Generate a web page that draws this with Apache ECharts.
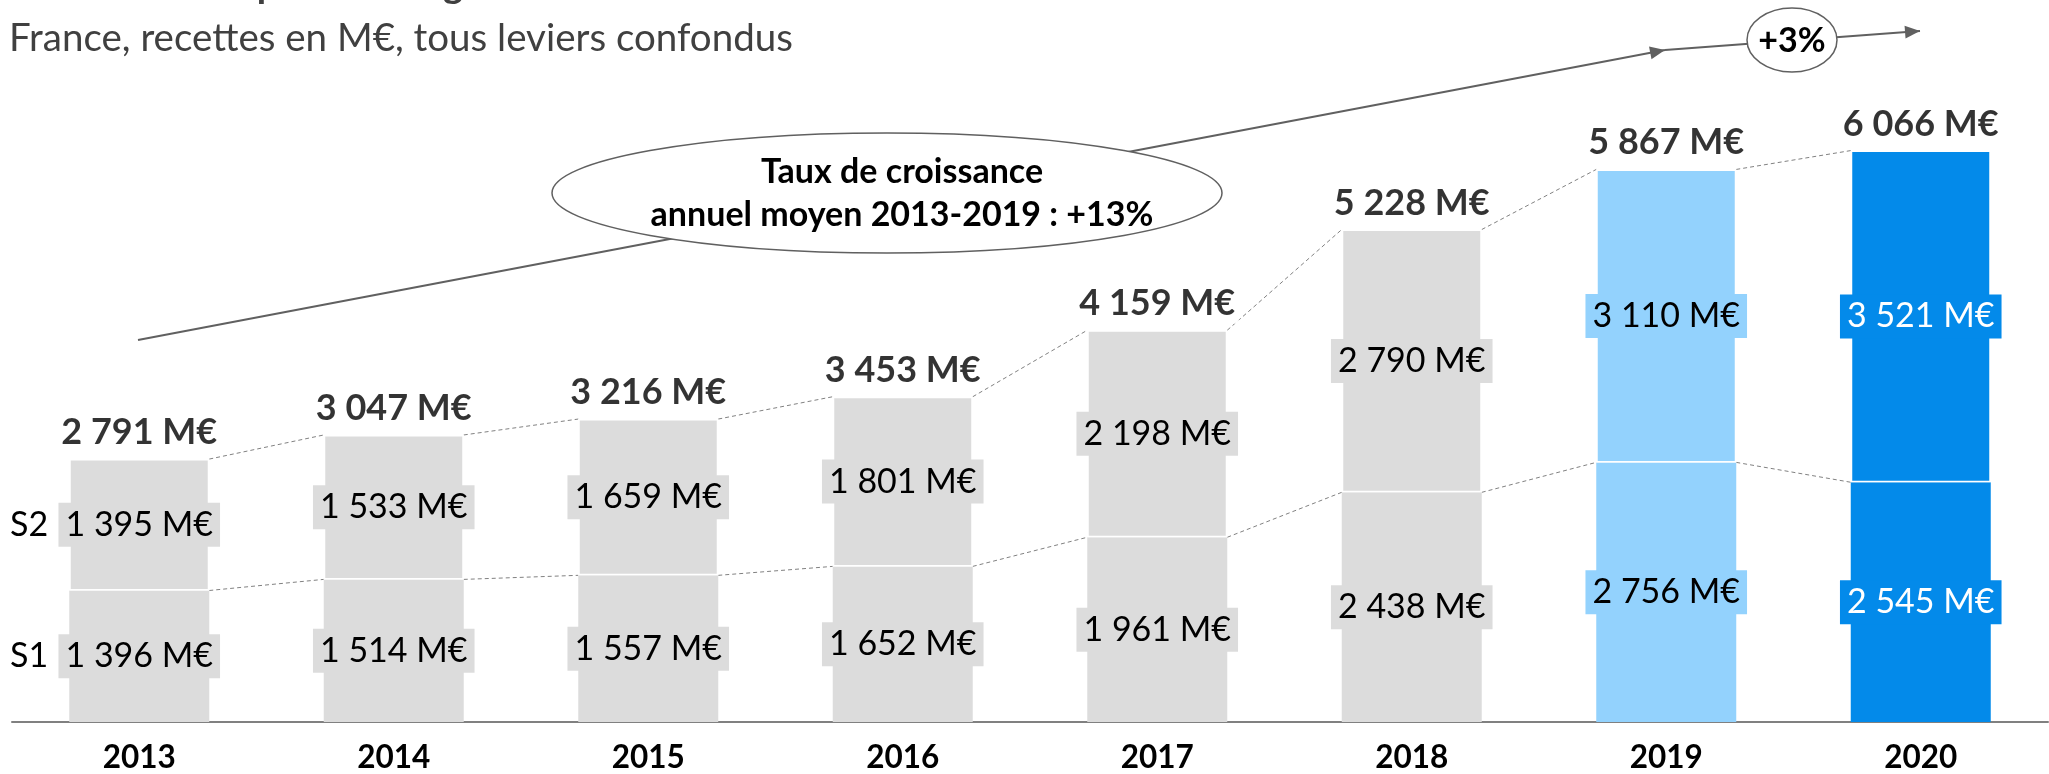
<!DOCTYPE html>
<html>
<head>
<meta charset="utf-8">
<script src="https://cdn.jsdelivr.net/npm/echarts@6/dist/echarts.min.js"></script>
<style>
    html, body { margin: 0; padding: 0; background: #fff; }
    #chart { width: 2049px; height: 774px; }
</style>
</head>
<body>
<div id="chart"></div>
<script>
    // données (M€)
    const years = ['2013', '2014', '2015', '2016', '2017', '2018', '2019', '2020'];
    const s1 = [1396, 1514, 1557, 1652, 1961, 2438, 2756, 2545];
    const s2 = [1395, 1533, 1659, 1801, 2198, 2790, 3110, 3521];
    const totals = [2791, 3047, 3216, 3453, 4159, 5228, 5867, 6066];

    const barColors = ['#DCDCDC', '#DCDCDC', '#DCDCDC', '#DCDCDC', '#DCDCDC', '#DCDCDC', '#93D2FD', '#038AEA'];
    const textColors = ['#000', '#000', '#000', '#000', '#000', '#000', '#000', '#fff'];

    const FONT = 'Lato';
    const BAR_W = 140;

    function fmt(v) {
        return String(v).replace(/\B(?=(\d{3})+(?!\d))/g, ' ') + ' M€';
    }

    function barData(values) {
        return values.map(function (v, i) {
            return {
                value: v,
                itemStyle: {color: barColors[i]},
                label: {backgroundColor: barColors[i], color: textColors[i]}
            };
        });
    }

    // pointe de flèche (triangle) au bout d'un segment
    function arrowHead(x0, y0, x1, y1) {
        const a = Math.atan2(y1 - y0, x1 - x0);
        const L = 15, W = 6.5;
        const bx = x1 - L * Math.cos(a), by = y1 - L * Math.sin(a);
        return [[x1, y1], [bx + W * Math.sin(a), by - W * Math.cos(a)], [bx - W * Math.sin(a), by + W * Math.cos(a)]];
    }

    const insideLabel = {
        show: true,
        position: 'inside',
        fontFamily: FONT,
        fontSize: 34,
        lineHeight: 34,
        padding: [5, 7, 5, 7],
        formatter: function (p) { return fmt(p.value); }
    };

    // segments pointillés entre barres
    const linkData = [];
    for (let i = 0; i < years.length - 1; i++) {
        linkData.push([i, s1[i], s1[i] + s2[i], s1[i + 1], s1[i + 1] + s2[i + 1]]);
    }

    const grey = '#606060';
    const arrow1 = [138, 340, 1665, 50];
    const arrow2 = [1665, 50, 1920, 31];

    const chart = echarts.init(document.getElementById('chart'));
    const option = {
        animation: false,
        grid: {left: 12, right: 1, top: 62.6, bottom: 52},
        xAxis: {
            type: 'category',
            data: years,
            axisTick: {show: false},
            axisLine: {lineStyle: {color: '#808080', width: 2}},
            axisLabel: {
                color: '#000',
                fontFamily: FONT,
                fontWeight: 'bold',
                fontSize: 31.5,
                margin: 20
            }
        },
        yAxis: {
            type: 'value',
            min: 0,
            max: 7000,
            show: false,
            splitLine: {show: false}
        },
        series: [
            {
                name: 'S1',
                type: 'bar',
                stack: 'total',
                barWidth: BAR_W,
                z: 2,
                data: barData(s1),
                label: insideLabel
            },
            {
                name: 'S2',
                type: 'bar',
                stack: 'total',
                barWidth: BAR_W,
                z: 2,
                itemStyle: {borderColor: '#fff', borderWidth: 1.5},
                data: barData(s2),
                label: insideLabel
            },
            {
                name: 'links',
                type: 'custom',
                z: 1,
                silent: true,
                data: linkData,
                encode: {x: 0, y: [1, 2, 3, 4]},
                renderItem: function (params, api) {
                    const i = api.value(0);
                    const half = BAR_W / 2;
                    const a1 = api.coord([i, api.value(1)]);
                    const a2 = api.coord([i, api.value(2)]);
                    const b1 = api.coord([i + 1, api.value(3)]);
                    const b2 = api.coord([i + 1, api.value(4)]);
                    const style = {stroke: '#808080', lineWidth: 1, lineDash: [4, 3], fill: null};
                    return {
                        type: 'group',
                        children: [
                            {type: 'line', shape: {x1: a1[0] + half, y1: a1[1], x2: b1[0] - half, y2: b1[1]}, style: style},
                            {type: 'line', shape: {x1: a2[0] + half, y1: a2[1], x2: b2[0] - half, y2: b2[1]}, style: style}
                        ]
                    };
                }
            },
            {
                name: 'total',
                type: 'scatter',
                z: 5,
                silent: true,
                symbolSize: 1,
                itemStyle: {color: 'rgba(0,0,0,0)'},
                data: totals,
                label: {
                    show: true,
                    position: 'top',
                    distance: 6,
                    fontFamily: FONT,
                    fontWeight: 'bold',
                    fontSize: 36,
                    lineHeight: 40,
                    color: '#000',
                    backgroundColor: '#fff',
                    padding: [0, 4, 0, 4],
                    formatter: function (p) { return fmt(p.value); }
                }
            }
        ],
        graphic: [
            {
                type: 'text', z: 10, x: 30, y: -14,
                style: {text: 'Marché de la publicité digitale', fontFamily: FONT, fontWeight: 'bold', fontSize: 38, fill: '#404040', verticalAlign: 'middle'}
            },
            {
                type: 'text', z: 10, x: 9, y: 39,
                style: {text: 'France, recettes en M€, tous leviers confondus', fontFamily: FONT, fontSize: 38.5, fill: '#404040', verticalAlign: 'middle'}
            },
            {
                type: 'line', z: 10,
                shape: {x1: arrow1[0], y1: arrow1[1], x2: arrow1[2], y2: arrow1[3]},
                style: {stroke: grey, lineWidth: 2}
            },
            {
                type: 'polygon', z: 10,
                shape: {points: arrowHead.apply(null, arrow1)},
                style: {fill: grey}
            },
            {
                type: 'line', z: 10,
                shape: {x1: arrow2[0], y1: arrow2[1], x2: arrow2[2], y2: arrow2[3]},
                style: {stroke: grey, lineWidth: 2}
            },
            {
                type: 'polygon', z: 10,
                shape: {points: arrowHead.apply(null, arrow2)},
                style: {fill: grey}
            },
            {
                type: 'ellipse', z: 11,
                shape: {cx: 887, cy: 193, rx: 335, ry: 60},
                style: {fill: '#fff', stroke: grey, lineWidth: 1.5}
            },
            {
                type: 'text', z: 12, x: 902, y: 194,
                style: {
                    text: 'Taux de croissance\nannuel moyen 2013-2019 : +13%',
                    fontFamily: FONT, fontWeight: 'bold', fontSize: 34, lineHeight: 43,
                    fill: '#000', align: 'center', verticalAlign: 'middle'
                }
            },
            {
                type: 'ellipse', z: 11,
                shape: {cx: 1792, cy: 40, rx: 45, ry: 32},
                style: {fill: '#fff', stroke: grey, lineWidth: 1.5}
            },
            {
                type: 'text', z: 12, x: 1792, y: 41,
                style: {
                    text: '+3%', fontFamily: FONT, fontWeight: 'bold', fontSize: 34,
                    fill: '#000', align: 'center', verticalAlign: 'middle'
                }
            }
        ]
    };
    chart.setOption(option);

    // étiquettes S1 / S2 à gauche, alignées sur les segments de 2013
    const yS1 = chart.convertToPixel({yAxisIndex: 0}, s1[0] / 2);
    const yS2 = chart.convertToPixel({yAxisIndex: 0}, s1[0] + s2[0] / 2);
    chart.setOption({
        graphic: option.graphic.concat([
            {type: 'text', z: 12, x: 10, y: yS2, style: {text: 'S2', fontFamily: FONT, fontSize: 34, fill: '#000', verticalAlign: 'middle'}},
            {type: 'text', z: 12, x: 10, y: yS1, style: {text: 'S1', fontFamily: FONT, fontSize: 34, fill: '#000', verticalAlign: 'middle'}}
        ])
    });
</script>
</body>
</html>
